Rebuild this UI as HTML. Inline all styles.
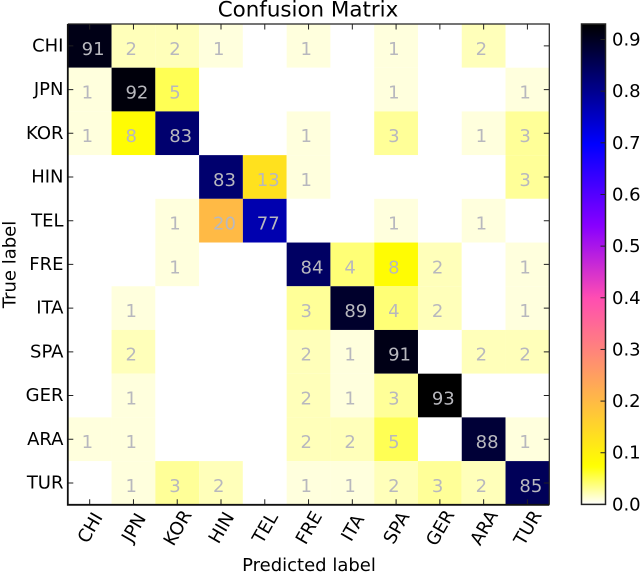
<!DOCTYPE html>
<html lang="en">
<head>
<meta charset="utf-8">
<title>Confusion Matrix</title>
<style>
html,body{margin:0;padding:0;background:#fff;width:640px;height:573px;overflow:hidden}
svg{display:block;filter:blur(.35px)}
text{font-family:"DejaVu Sans","Liberation Sans",sans-serif;fill:#000}
</style>
</head>
<body>
<svg id="chart" xmlns="http://www.w3.org/2000/svg" width="640" height="573" viewBox="0 0 640 573">
  <defs><linearGradient id="cbar-grad" x1="0" y1="1" x2="0" y2="0"></linearGradient></defs>
  <text x="308" y="16.5" font-size="21.4" text-anchor="middle">Confusion Matrix</text>
  <text x="309" y="571" font-size="18" text-anchor="middle">Predicted label</text>
  <text transform="translate(15.7,264.5) rotate(-90)" font-size="18" text-anchor="middle">True label</text>
</svg>
<script>
const categories = ['CHI','JPN','KOR','HIN','TEL','FRE','ITA','SPA','GER','ARA','TUR'];
const rowCHI = [91,2,2,1,0,1,0,1,0,2,0];
const rowJPN = [1,92,5,0,0,0,0,1,0,0,1];
const rowKOR = [1,8,83,0,0,1,0,3,0,1,3];
const rowHIN = [0,0,0,83,13,1,0,0,0,0,3];
const rowTEL = [0,0,1,20,77,0,0,1,0,1,0];
const rowFRE = [0,0,1,0,0,84,4,8,2,0,1];
const rowITA = [0,1,0,0,0,3,89,4,2,0,1];
const rowSPA = [0,2,0,0,0,2,1,91,0,2,2];
const rowGER = [0,1,0,0,0,2,1,3,93,0,0];
const rowARA = [1,1,0,0,0,2,2,5,0,88,1];
const rowTUR = [0,1,3,2,0,1,1,2,3,2,85];
const matrix = [rowCHI,rowJPN,rowKOR,rowHIN,rowTEL,rowFRE,rowITA,rowSPA,rowGER,rowARA,rowTUR];
const colorbarTicks = ['0.0','0.1','0.2','0.3','0.4','0.5','0.6','0.7','0.8','0.9'];

const svg = document.getElementById('chart');
const NS = 'http://www.w3.org/2000/svg';
const plot = {l:67.8, r:549.3, t:24, b:504.8};
const cbar = {l:581.5, r:605.5, t:24, b:504.4};
const cw = (plot.r - plot.l) / categories.length;
const ch = (plot.b - plot.t) / categories.length;
const vmax = Math.max(...matrix.flat()) / 100;

function xCell(i){ return plot.l + i * cw; }
function yCell(i){ return plot.t + i * ch; }
function yBar(v){ return cbar.b - (v / vmax) * (cbar.b - cbar.t); }
function clip(v){ return Math.max(0, Math.min(1, v)); }
function colormap(v){
  const t = 1 - clip(v / vmax);
  const r = clip(t / 0.32 - 0.78125);
  const g = clip(2 * t - 0.84);
  const b = clip(t < 0.25 ? 4 * t : t < 0.92 ? -2 * t + 1.84 : t / 0.08 - 11.5);
  return 'rgb(' + [r,g,b].map(c => Math.round(c * 255)).join(',') + ')';
}
function make(tag, attrs, parent){
  const el = document.createElementNS(NS, tag);
  for (const k in attrs) el.setAttribute(k, attrs[k]);
  (parent || svg).appendChild(el);
  return el;
}

matrix.forEach((row, r) => {
  row.forEach((val, c) => {
    const cell = make('rect', {x:xCell(c), y:yCell(r), width:cw, height:ch, fill:colormap(val / 100)});
    
    
  });
});
matrix.forEach((row, r) => {
  row.forEach((val, c) => {
    if (val > 0) {
      const t = make('text', {x:xCell(c) + cw / 2 - 8, y:yCell(r) + ch / 2 + 8.9, 'font-size':18, style:'fill:#b8b8be'});
      t.textContent = val;
      
      
    }
  });
});

categories.forEach((name, i) => {
  const cx = xCell(i) + cw / 2;
  const cy = yCell(i) + ch / 2;

  const xt = make('path', {d:'M' + cx + ' ' + plot.t + 'v5.5M' + cx + ' ' + plot.b + 'v-5.5', stroke:'#222', 'stroke-width':1, fill:'none'});
  
  

  const yt = make('path', {d:'M' + plot.l + ' ' + cy + 'h5.5M' + plot.r + ' ' + cy + 'h-5.5', stroke:'#222', 'stroke-width':1, fill:'none'});
  
  

  const xl = make('text', {transform:'translate(' + cx + ',527.5) rotate(-60)', y:6.5, 'font-size':18, 'text-anchor':'middle'});
  xl.textContent = name;
  
  

  const yl = make('text', {x:63.5, y:cy + 5.6, 'font-size':18, 'text-anchor':'end'});
  yl.textContent = name;
  
  
});

const frameTopRight = make('path', {d:'M' + plot.l + ' ' + plot.t + 'H' + plot.r + 'V' + plot.b, fill:'none', stroke:'#222', 'stroke-width':1.2});



const frameLeftBottom = make('path', {d:'M' + plot.l + ' ' + plot.t + 'V' + plot.b + 'H' + plot.r, fill:'none', stroke:'#111', 'stroke-width':1.8});



const grad = document.getElementById('cbar-grad');
for (let i = 0; i <= 128; i++) {
  const f = i / 128;
  const stop = make('stop', {offset:f, 'stop-color':colormap(f * vmax)}, grad);
  
  
}
const bar = make('rect', {x:cbar.l, y:cbar.t, width:cbar.r - cbar.l, height:cbar.b - cbar.t, fill:'url(#cbar-grad)', stroke:'#222', 'stroke-width':1.5});



colorbarTicks.forEach(label => {
  const y = yBar(parseFloat(label));
  const tick = make('path', {d:'M' + cbar.r + ' ' + y + 'h-5', stroke:'#222', 'stroke-width':1, fill:'none'});
  
  
  const text = make('text', {x:612, y:y + 6, 'font-size':18});
  text.textContent = label;
  
  
});
</script>
</body>
</html>
